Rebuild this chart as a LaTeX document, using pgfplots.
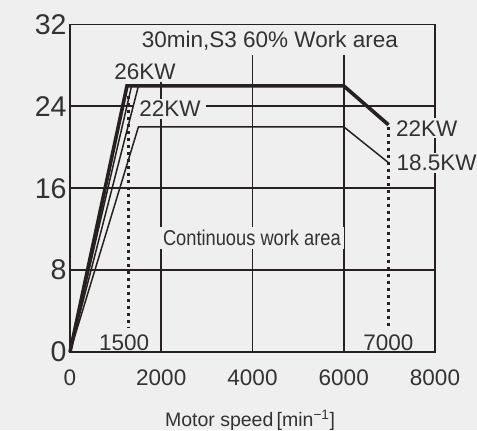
\documentclass[border=0pt]{standalone}
\usepackage{fontspec}
\setmainfont{Liberation Sans}
\usepackage{graphicx}
\usepackage{pgfplots}
\pgfplotsset{compat=1.18}
\usetikzlibrary{backgrounds}
\definecolor{bgc}{RGB}{239,239,239}
\definecolor{lc}{RGB}{38,32,32}
\definecolor{tc}{RGB}{50,50,50}
\begin{document}
\begin{tikzpicture}
\begin{axis}[
  scale only axis, width=365bp, height=327.5bp,
  xmin=0, xmax=8000, ymin=0, ymax=32,
  axis line style={draw=none}, major tick length=0pt,
  xtick={0,2000,4000,6000,8000}, xticklabels={0,2000,4000,6000,8000},
  ytick={0,8,16,24,32}, yticklabels={0,8,16,24,32},
  xticklabel style={font=\fontsize{22.5bp}{24bp}\selectfont, text=tc, yshift=-14bp},
  yticklabel style={font=\fontsize{28.5bp}{30bp}\selectfont, text=tc},
  clip=false,
]
\coordinate (SW) at (rel axis cs:0,0);
\coordinate (NE) at (rel axis cs:1,1);
% grid
\draw[lc, line width=1.8bp] (axis cs:0,8) -- (axis cs:8000,8);
\draw[lc, line width=1.8bp] (axis cs:0,16) -- (axis cs:8000,16);
\draw[lc, line width=1.8bp] (axis cs:0,24) -- (axis cs:8000,24);
\draw[lc, line width=1.8bp] (axis cs:2000,0) -- (axis cs:2000,26.6);
\draw[lc, line width=1.8bp] (axis cs:4000,0) -- (axis cs:4000,29.05);
\draw[lc, line width=1.8bp] (axis cs:6000,0) -- (axis cs:6000,29.05);
% frame
\draw[lc, line width=1.8bp] (axis cs:0,0) rectangle (axis cs:8000,32);
% labels (masking)
\node[fill=bgc, text=tc, inner sep=2bp, font=\fontsize{22.5bp}{24bp}\selectfont] at (axis cs:4381,30.45) {30min,S3 60\% Work area};
\node[fill=bgc, text=tc, inner sep=2bp, font=\fontsize{22.5bp}{24bp}\selectfont] at (axis cs:1643,27.35) {26KW};
\node[fill=bgc, text=tc, inner xsep=5bp, inner ysep=2bp, font=\fontsize{22.5bp}{24bp}\selectfont] at (axis cs:2190,23.77) {22KW};
\node[fill=bgc, text=tc, inner sep=2bp, font=\fontsize{22.5bp}{24bp}\selectfont] at (axis cs:7820,21.87) {22KW};
\node[fill=bgc, text=tc, inner sep=2bp, font=\fontsize{22.5bp}{24bp}\selectfont] at (axis cs:8035,18.45) {18.5KW};
\node[fill=bgc, text=tc, inner sep=3bp, font=\fontsize{21.5bp}{23bp}\selectfont] at (axis cs:3987,11.12) {\scalebox{0.85}[1]{Continuous work area}};
\node[text=tc, inner sep=0bp, font=\fontsize{22.5bp}{24bp}\selectfont] at (axis cs:1187,0.95) {1500};
\node[text=tc, inner sep=0bp, font=\fontsize{22.5bp}{24bp}\selectfont] at (axis cs:6980,0.95) {7000};
% dotted
\addplot[lc, line width=2.2bp, dash pattern=on 3bp off 4bp] coordinates {(1280,25) (1280,2.3)};
\addplot[lc, line width=2.2bp, dash pattern=on 3bp off 4bp] coordinates {(6980,22) (6980,2.3)};
% curves
\addplot[lc, line width=1.5bp] coordinates {(0,0) (1500,22) (6000,22) (6980,18.5)};
\addplot[lc, line width=1.5bp] coordinates {(0,0) (1500,26) (6000,26)};
\addplot[lc, line width=1.5bp] coordinates {(0,0) (1350,26) (6000,26)};
\addplot[lc, line width=3.6bp, line join=miter] coordinates {(0,0) (1250,26) (6000,26) (6980,22.2)};
\end{axis}
\node[text=tc, font=\fontsize{19.5bp}{21bp}\selectfont] at ([xshift=180bp,yshift=-68.5bp]SW) {Motor speed\,[min\textsuperscript{\textminus1}]};
\pgfresetboundingbox
\path[use as bounding box] ([xshift=-70bp,yshift=-78bp]SW) rectangle ([xshift=42bp,yshift=24.5bp]NE);
\begin{pgfonlayer}{background}
\fill[bgc] ([xshift=-70bp,yshift=-78bp]SW) rectangle ([xshift=42bp,yshift=24.5bp]NE);
\end{pgfonlayer}
\end{tikzpicture}
\end{document}
